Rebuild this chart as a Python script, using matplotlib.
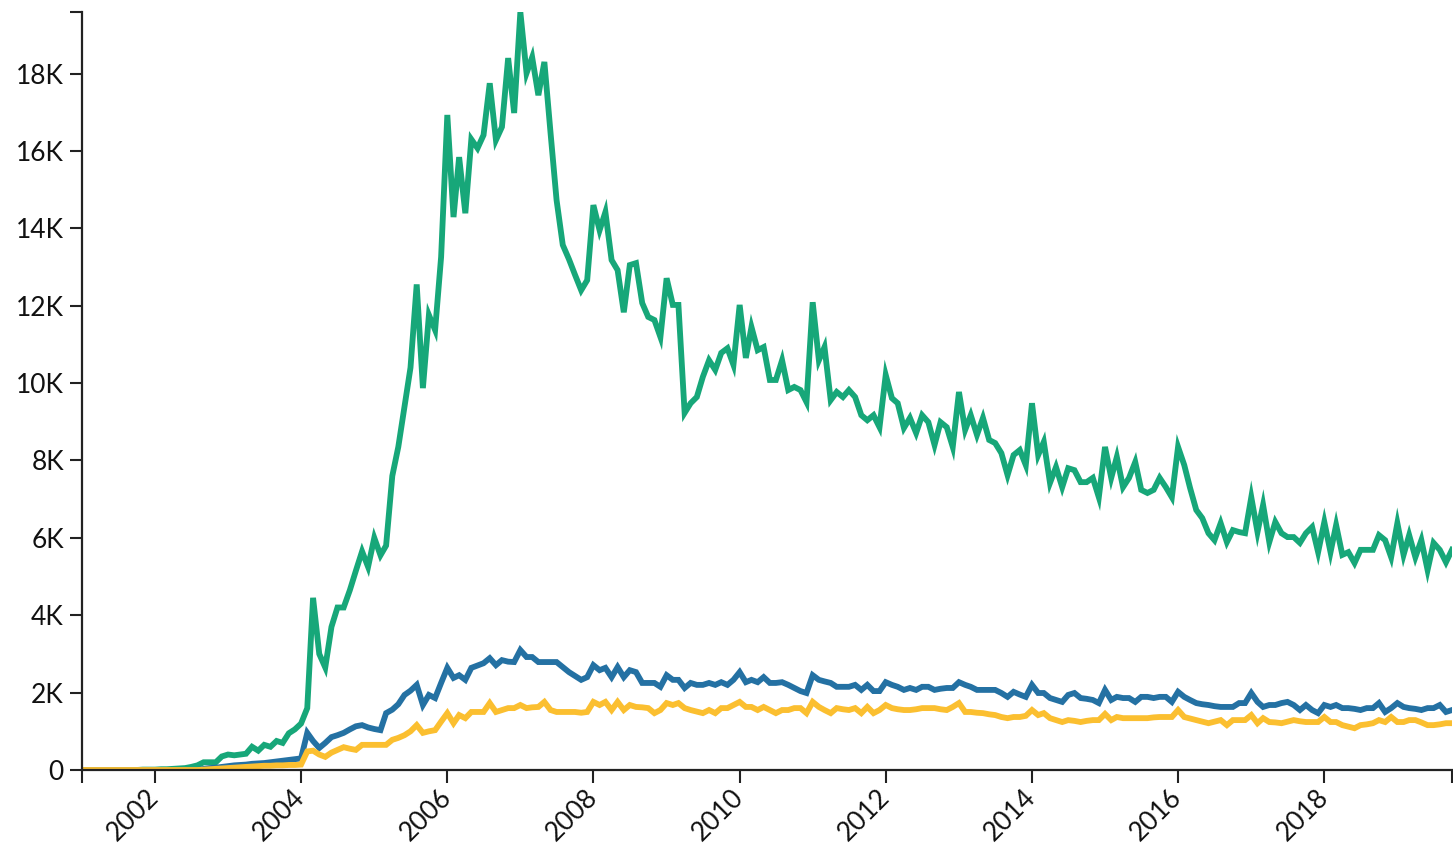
import numpy as np
import pandas as pd
import matplotlib
matplotlib.use("Agg")
import matplotlib.pyplot as plt
import matplotlib.dates as mdates
from matplotlib.ticker import FuncFormatter

# monthly values, Jan 2001 .. Oct 2019
green = [0, 0, 0, 0, 0, 0, 0, 0, 0, 0, 10, 10, 10, 20, 20, 30, 40,
         50, 80, 120, 200, 200, 200, 350, 400, 380, 400, 420, 600, 500, 650, 600, 750, 700, 950, 1050, 1200, 1600,
         4450, 3000, 2650, 3700, 4200, 4200, 4650, 5150, 5650, 5250, 6000, 5550, 5800, 7600, 8350, 9400, 10400, 12550,
         9870, 11760, 11370, 13260, 16930, 14290, 15840, 14390, 16300, 16070, 16410, 17750, 16280, 16620, 18400, 16980,
         19590, 18010, 18420, 17440, 18300, 16460, 14730, 13570,
         13200, 12800, 12400, 12660, 14600, 13950, 14420, 13180, 12920, 11830, 13050, 13100, 12070, 11710, 11630, 11190,
         12710, 12020, 12020,
         9230, 9480, 9640, 10160, 10590, 10340, 10780, 10900, 10470, 12020, 10650, 11450, 10850, 10930, 10080, 10080,
         10590, 9820, 9900, 9820, 9510,
         12090, 10590, 10930, 9560, 9770, 9640, 9820, 9640, 9170, 9040, 9170, 8860, 10210, 9610, 9480, 8840, 9100, 8710,
         9170, 8990, 8400, 8990, 8860, 8350,
         9770, 8790, 9170, 8660, 9100, 8530, 8450, 8190, 7620, 8140, 8270, 7880, 9480, 8140, 8480, 7420, 7830, 7310,
         7800, 7750, 7440, 7440, 7550, 7050,
         8350, 7550, 8090, 7310, 7550, 7960, 7240, 7160, 7240, 7550, 7310, 7050, 8350, 7880, 7290, 6720, 6510, 6120,
         5940, 6380, 5890, 6200, 6150, 6120,
         7050, 6150, 6850, 5890, 6410, 6120, 6020, 6020, 5870, 6120, 6280, 5630, 6410, 5630, 6330, 5560, 5630, 5350,
         5690, 5690, 5690, 6070, 5940, 5500, 6380, 5560, 6070, 5500, 5940, 5170, 5870, 5690, 5370, 5690]

blue = [0, 0, 0, 0, 0, 0, 0, 0, 0, 0, 0, 0, 0, 0, 0, 0, 0, 0, 0, 0,
        30, 50, 60, 80, 100, 120, 130, 140, 160, 170, 180, 200, 220, 240, 260, 280, 300,
        960, 750, 570, 700, 850, 900, 960, 1050, 1130, 1160, 1100, 1060, 1030, 1470, 1560, 1700, 1940, 2050, 2200,
        1680, 1940, 1860, 2250, 2640, 2380, 2450, 2330, 2640, 2700, 2760, 2890, 2710, 2840, 2800, 2790, 3100, 2920,
        2920, 2790, 2790, 2790, 2790, 2660,
        2530, 2430, 2330, 2400, 2710, 2580, 2640, 2400, 2660, 2400, 2580, 2530, 2250, 2250, 2250, 2150, 2450, 2330,
        2330, 2120,
        2250, 2200, 2200, 2250, 2200, 2270, 2200, 2330, 2530, 2270, 2330, 2270, 2400, 2250, 2250, 2270, 2200, 2120,
        2040, 1990,
        2450, 2330, 2290, 2250, 2150, 2150, 2150, 2200, 2070, 2200, 2040, 2040, 2270, 2200, 2150, 2070, 2120, 2070,
        2150, 2150, 2070, 2100, 2120, 2120,
        2270, 2200, 2150, 2070, 2070, 2070, 2070, 1990, 1890, 2020, 1950, 1890, 2200, 1990, 1990, 1860, 1810, 1760,
        1940, 1990, 1860, 1840, 1810, 1730,
        2070, 1810, 1890, 1860, 1860, 1760, 1890, 1890, 1860, 1890, 1890, 1760, 2020, 1890, 1810, 1730, 1700, 1680,
        1650, 1630, 1630, 1630, 1730, 1730,
        1990, 1760, 1630, 1680, 1680, 1730, 1760, 1680, 1550, 1680, 1550, 1470, 1680, 1630, 1680, 1600, 1600, 1580,
        1550, 1600, 1600, 1730, 1500, 1600, 1730, 1630, 1600, 1580, 1550, 1600, 1600, 1680, 1500, 1550]

yellow = [0, 0, 0, 0, 0, 0, 0, 0, 0, 0, 0, 0, 0, 0, 0, 0, 0, 0, 0, 0,
          10, 20, 30, 40, 50, 60, 70, 80, 90, 100, 110, 110, 120, 120, 130, 130, 140,
          480, 500, 400, 340, 450, 520, 590, 550, 520, 650, 650, 650, 650, 650, 780, 830, 900, 1000, 1160,
          960, 1000, 1030, 1250, 1470, 1210, 1420, 1340, 1500, 1500, 1500, 1730, 1500, 1550, 1600, 1600, 1680, 1600,
          1620, 1630, 1760, 1550, 1500, 1500,
          1500, 1500, 1480, 1500, 1760, 1680, 1760, 1550, 1760, 1550, 1680, 1630, 1620, 1600, 1470, 1550, 1730, 1680,
          1730, 1600,
          1550, 1510, 1470, 1550, 1470, 1600, 1600, 1680, 1760, 1630, 1630, 1550, 1630, 1550, 1470, 1550, 1550, 1600,
          1600, 1470,
          1760, 1630, 1550, 1470, 1600, 1570, 1550, 1600, 1470, 1630, 1470, 1550, 1680, 1600, 1570, 1550, 1550, 1570,
          1600, 1600, 1600, 1570, 1550, 1630,
          1730, 1500, 1500, 1480, 1470, 1440, 1420, 1370, 1340, 1370, 1370, 1400, 1550, 1420, 1470, 1340, 1290, 1240,
          1290, 1270, 1240, 1270, 1290, 1290,
          1450, 1290, 1370, 1340, 1340, 1340, 1340, 1340, 1360, 1370, 1370, 1370, 1550, 1370, 1330, 1290, 1250, 1210,
          1250, 1290, 1160, 1290, 1290, 1290,
          1420, 1210, 1340, 1240, 1230, 1210, 1250, 1290, 1260, 1240, 1240, 1240, 1370, 1240, 1240, 1160, 1120, 1080,
          1160, 1180, 1210, 1290, 1240, 1370, 1240, 1240, 1290, 1290, 1230, 1160, 1160, 1180, 1210, 1210]

months = pd.date_range("2001-01-01", periods=len(green), freq="MS")
tick_years = list(range(2002, 2019, 2))

plt.rcParams["font.family"] = ["Lato", "DejaVu Sans"]

fig = plt.figure(figsize=(14.53, 8.47), dpi=100)
ax = fig.add_axes([0.0564, 0.0909, 0.9429, 0.8949])

ax.plot(months, green, color="#17a779", lw=4.2, solid_joinstyle="miter")
ax.plot(months, blue, color="#2471a3", lw=4.2, solid_joinstyle="miter")
ax.plot(months, yellow, color="#fbbf30", lw=4.2, solid_joinstyle="miter")

ax.set_xlim(months[0], months[-1])
ax.set_ylim(0, max(green))

ax.set_yticks(range(0, 18001, 2000))
ax.yaxis.set_major_formatter(FuncFormatter(lambda v, p: "0" if v == 0 else f"{int(v / 1000)}K"))
ax.set_xticks([pd.Timestamp(f"{y}-01-01") for y in tick_years])
ax.xaxis.set_major_formatter(mdates.DateFormatter("%Y"))

# outer ticks at the domain ends, like a d3 axis
ax.set_yticks([max(green)], minor=True)
ax.set_xticks([months[0], months[-1]], minor=True)

for s in ["top", "right"]:
    ax.spines[s].set_visible(False)
for s in ["left", "bottom"]:
    ax.spines[s].set_linewidth(1.6)
    ax.spines[s].set_color("#222222")

ax.tick_params(which="both", length=9, width=1.5, color="#222222",
               labelsize=19, labelcolor="#111111", pad=4)
ax.tick_params(axis="x", which="major", pad=8)
for lab in ax.get_xticklabels():
    lab.set_rotation(45)
    lab.set_ha("right")
    lab.set_va("center")
    lab.set_rotation_mode("anchor")

fig.savefig("out.png", dpi=100)
